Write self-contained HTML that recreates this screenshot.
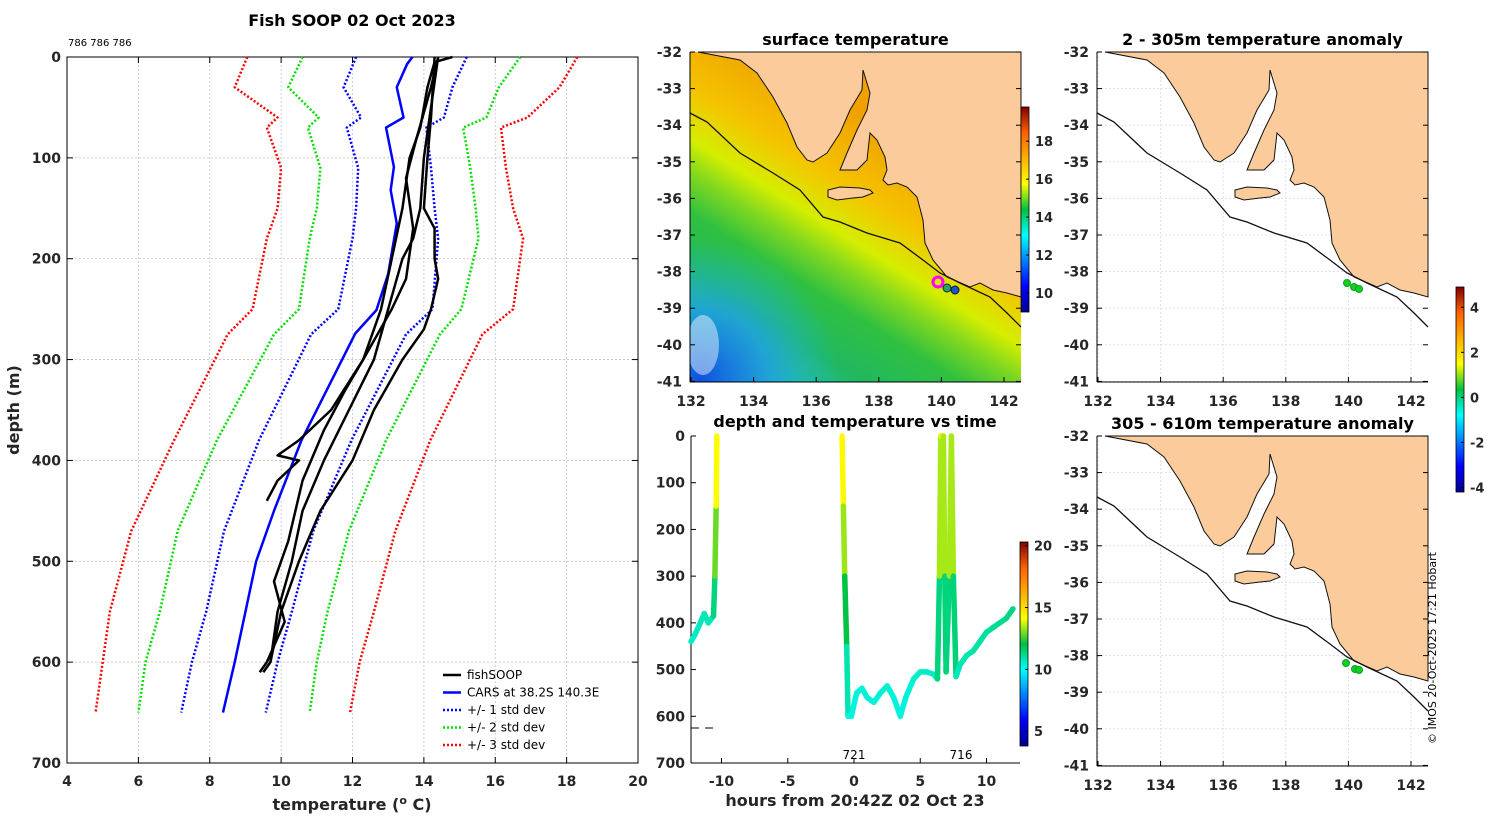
<!DOCTYPE html>
<html><head><meta charset="utf-8"><style>
body{margin:0;background:#fff;}
svg{display:block;font-family:"DejaVu Sans","Liberation Sans",sans-serif;}
.tk{font-size:14px;font-weight:bold;fill:#262626;}
.ti{font-size:16px;font-weight:bold;fill:#000;}
.sm{font-size:12px;fill:#000;}
</style></head><body>
<svg id="fig" width="1500" height="820" viewBox="0 0 1500 820">
<defs>
<linearGradient id="jet" x1="0" y1="1" x2="0" y2="0">
<stop offset="0" stop-color="#00008f"/><stop offset="0.125" stop-color="#0000ff"/><stop offset="0.375" stop-color="#00ffff"/><stop offset="0.5" stop-color="#00c040"/><stop offset="0.625" stop-color="#ffff00"/><stop offset="0.875" stop-color="#ff6000"/><stop offset="1" stop-color="#800000"/>
</linearGradient>
<linearGradient id="sst" gradientUnits="userSpaceOnUse" x1="905" y1="140" x2="755" y2="380">
<stop offset="0" stop-color="#f0a000"/><stop offset="0.25" stop-color="#f5c400"/><stop offset="0.4" stop-color="#d4ee00"/><stop offset="0.5" stop-color="#80d820"/><stop offset="0.62" stop-color="#30c040"/><stop offset="0.8" stop-color="#20b860"/><stop offset="1" stop-color="#20c0b0"/>
</linearGradient>
<radialGradient id="blue" gradientUnits="userSpaceOnUse" cx="700" cy="380" r="140">
<stop offset="0" stop-color="#1050e0"/><stop offset="0.5" stop-color="#20a0e0" stop-opacity="0.85"/><stop offset="1" stop-color="#20c0c0" stop-opacity="0"/>
</radialGradient>
<g id="land">
<path d="M698,52 L740,60 L757,73 L773,97 L787,123 L797,147 L807,160 L813,162 L827,153 L840,133 L850,110 L862,90 L863,70 L870,93 L867,110 L857,130 L847,153 L840,170 L857,170 L867,160 L870,133 L877,140 L885,157 L887,170 L883,180 L888,185 L897,183 L907,187 L917,197 L923,220 L925,243 L933,260 L947,277 L970,287 L980,283 L993,290 L1007,293 L1021,297 L1021,52 Z" fill="#fbcb9c" stroke="#111" stroke-width="1"/>
<path d="M828,190 L840,187 L860,188 L870,190 L873,193 L863,197 L853,198 L837,200 L828,197 Z" fill="#fbcb9c" stroke="#111" stroke-width="1"/>
<path d="M690,113 L707,122 L740,153 L773,173 L800,190 L823,217 L840,222 L867,233 L900,243 L923,260 L940,273 L960,283 L990,297 L1007,313 L1021,327" fill="none" stroke="#111" stroke-width="1.3"/>
</g>
</defs>
</svg>
<script>
// ---------- profile data ----------
const depthGrid=[0,30,60,70,110,150,180,250,275,380,470,550,600,650];
const sd3Left=[9.05,8.7,9.9,9.6,10.0,9.9,9.6,9.2,8.5,7.0,5.8,5.2,5.0,4.8];
const sd2Left=[10.6,10.2,11.05,10.75,11.1,11.0,10.8,10.5,9.8,8.2,7.1,6.6,6.2,6.0];
const sd1Left=[12.1,11.75,12.24,11.84,12.16,12.1,12.0,11.6,10.84,9.38,8.4,7.9,7.5,7.2];
const sd1Right=[15.2,14.8,14.56,14.07,14.2,14.3,14.4,14.24,13.5,11.97,10.9,10.3,9.9,9.57];
const sd2Right=[16.7,16.1,15.75,15.1,15.3,15.45,15.53,15.05,14.45,12.94,11.9,11.3,11.0,10.8];
const sd3Right=[18.3,17.8,16.9,16.16,16.3,16.5,16.78,16.5,15.64,14.18,13.2,12.6,12.2,11.93];
const carsDepth=[0,7,30,60,70,109,132,165,215,251,274,380,450,500,600,650];
const carsTemp=[13.68,13.53,13.24,13.43,12.94,13.16,13.07,13.24,13.0,12.67,12.08,10.57,9.8,9.3,8.7,8.37];
const soopDepthA=[0,5,30,70,100,150,200,250,280,300,350,380,395,400,420,440];
const soopTempA=[14.8,14.3,14.1,13.9,13.6,13.4,13.1,12.8,12.5,12.3,11.4,10.5,9.9,10.5,9.9,9.6];
const soopDepthB=[0,50,100,150,180,200,250,300,350,400,450,500,550,600,610];
const soopTempB=[14.4,14.2,14.0,13.9,13.7,13.4,13.0,12.6,11.9,11.2,10.6,10.3,9.9,9.7,9.5];
const soopDepthC=[0,60,100,150,170,200,220,250,270,300,350,400,450,500,550,600];
const soopTempC=[14.3,14.2,14.1,14.0,14.3,14.3,14.4,14.2,14.0,13.4,12.6,12.0,11.1,10.5,10.0,9.7];
const soopDepthD=[0,30,80,120,170,220,250,300,330,370,420,480,520,560,600,610];
const soopTempD=[14.4,14.2,13.8,13.5,13.7,13.5,13.1,12.3,11.8,11.2,10.6,10.2,9.8,10.1,9.6,9.4];
const tempTicks=[4,6,8,10,12,14,16,18,20];
const depthTicks=[0,100,200,300,400,500,600,700];
// ---------- time series data ----------
const cast1Time=[-12.3,-12.0,-11.6,-11.3,-11.0,-10.6,-10.5,-10.4,-10.35];
const cast1Depth=[440,425,400,380,400,385,300,150,0];
const cast1Temp=[10.6,10.6,10.7,10.8,10.7,10.8,12.0,13.8,14.6];
const cast2Time=[-0.9,-0.8,-0.7,-0.55,-0.45,-0.2,0.2,0.6,1.0,1.5,2.0,2.5,3.0,3.5,3.9,4.5,5.0,5.5,6.0,6.3,6.45,6.55,6.75,6.85,6.95,7.2,7.35,7.5,7.7,8.0,8.5,9.0,9.5,10.0,10.5,11.0,11.5,12.0];
const cast2Depth=[0,150,300,450,600,600,550,540,560,570,550,535,560,600,560,520,505,505,510,520,300,0,0,300,505,300,0,300,515,490,470,460,440,420,410,400,390,370];
const cast2Temp=[14.6,14.0,12.6,11.4,10.3,10.3,10.4,10.4,10.4,10.4,10.4,10.5,10.4,10.3,10.4,10.5,10.6,10.6,10.6,10.6,12.2,14.6,14.6,12.2,10.6,12.2,14.6,12.2,10.7,10.8,10.8,10.9,11.0,11.0,11.1,11.2,11.2,11.4];
const hourTicks=[-10,-5,0,5,10];
const mapLonTicks=[132,134,136,138,140,142];
const mapLatTicks=[-32,-33,-34,-35,-36,-37,-38,-39,-40,-41];
const sstTicks=[10,12,14,16,18];
const anomTicks=[4,2,0,-2,-4];
const tsTicks=[20,15,10,5];

const S='http://www.w3.org/2000/svg';
const svg=document.getElementById('fig');
function mk(tag,attrs,parent,text){const e=document.createElementNS(S,tag);for(const k in attrs)e.setAttribute(k,attrs[k]);if(text!==undefined)e.textContent=text;(parent||svg).appendChild(e);return e;}
const cmapStops=[[0,[0,0,143]],[0.125,[0,0,255]],[0.375,[0,255,255]],[0.5,[0,192,64]],[0.625,[255,255,0]],[0.875,[255,96,0]],[1,[128,0,0]]];
function cmap(v){v=Math.max(0,Math.min(1,v));for(let i=0;i<cmapStops.length-1;i++){const a=cmapStops[i],b=cmapStops[i+1];if(v<=b[0]){const f=(v-a[0])/(b[0]-a[0]);return 'rgb('+a[1].map((c,k)=>Math.round(c+(b[1][k]-c)*f)).join(',')+')';}}return 'rgb(128,0,0)';}

// ---------- profile panel ----------
const X0=67,X1=638,Y0=57,Y1=763;
const px=t=>X0+(t-4)/16*(X1-X0);
const py=d=>Y0+d/700*(Y1-Y0);
const g1=mk('g',{});


tempTicks.forEach(t=>{const x=px(t);
 if(t>4&&t<20){const gl=mk('line',{x1:x,y1:Y0,x2:x,y2:Y1,stroke:'#b8c4e8','stroke-width':0.8,'stroke-dasharray':'2,2'},g1);}
 mk('line',{x1:x,y1:Y1,x2:x,y2:Y1-6,stroke:'#000'},g1);mk('line',{x1:x,y1:Y0,x2:x,y2:Y0+6,stroke:'#000'},g1);
 const tl=mk('text',{x:x,y:Y1+23,'text-anchor':'middle',class:'tk'},g1,t);});
depthTicks.forEach(d=>{const y=py(d);
 if(d>0&&d<700){const gl=mk('line',{x1:X0,y1:y,x2:X1,y2:y,stroke:'#d8b8b0','stroke-width':0.8,'stroke-dasharray':'2,2'},g1);}
 mk('line',{x1:X0,y1:y,x2:X0+6,y2:y,stroke:'#000'},g1);mk('line',{x1:X1,y1:y,x2:X1-6,y2:y,stroke:'#000'},g1);
 const tl=mk('text',{x:X0-6,y:y+5,'text-anchor':'end',class:'tk'},g1,d);});
mk('rect',{x:X0,y:Y0,width:X1-X0,height:Y1-Y0,fill:'none',stroke:'#000'},g1);
function prof(depths,temps,color,w,dash,name){const p=mk('polyline',{points:depths.map((d,i)=>px(temps[i])+','+py(d)).join(' '),fill:'none',stroke:color,'stroke-width':w,'stroke-dasharray':dash||'none','stroke-linejoin':'round'},g1);}
prof(depthGrid,sd3Left,'#ff0000',2.5,'2,2','sd3-left-line');
prof(depthGrid,sd2Left,'#00e000',2.5,'2,2','sd2-left-line');
prof(depthGrid,sd1Left,'#0000ff',2.5,'2,2','sd1-left-line');
prof(depthGrid,sd1Right,'#0000ff',2.5,'2,2','sd1-right-line');
prof(depthGrid,sd2Right,'#00e000',2.5,'2,2','sd2-right-line');
prof(depthGrid,sd3Right,'#ff0000',2.5,'2,2','sd3-right-line');
prof(carsDepth,carsTemp,'#0000ff',2.5,null,'cars-line');
prof(soopDepthA,soopTempA,'#000',2.5,null,'fishsoop-profile-a');
prof(soopDepthB,soopTempB,'#000',2.5,null,'fishsoop-profile-b');
prof(soopDepthC,soopTempC,'#000',2.5,null,'fishsoop-profile-c');
prof(soopDepthD,soopTempD,'#000',2.5,null,'fishsoop-profile-d');
const legItems=[['fishSOOP','#000',null],['CARS at 38.2S 140.3E','#0000ff',null],['+/- 1 std dev','#0000ff','2,2'],['+/- 2 std dev','#00e000','2,2'],['+/- 3 std dev','#ff0000','2,2']];
legItems.forEach((it,i)=>{const y=675+i*17.5;const lg=mk('g',{},g1);
 mk('line',{x1:443,y1:y,x2:461,y2:y,stroke:it[1],'stroke-width':2.5,'stroke-dasharray':it[2]||'none'},lg);
 mk('text',{x:467,y:y+4,class:'sm'},lg,it[0]);});
let e;
e=mk('text',{x:352,y:26,'text-anchor':'middle',class:'ti'},svg,'Fish SOOP 02 Oct 2023');
e=mk('text',{x:68,y:46,style:'font-size:10px'},svg,'786 786 786');
e=mk('text',{x:352,y:810,'text-anchor':'middle',class:'tk',style:'font-size:16px'},svg,'');
e.innerHTML='temperature (<tspan dy="-6" font-size="11">o</tspan><tspan dy="6"> C)</tspan>';
e=mk('text',{x:19,y:410,'text-anchor':'middle',class:'tk',style:'font-size:16px',transform:'rotate(-90 19 410)'},svg,'depth (m)');

// ---------- maps ----------
function map(ox,oy,title,sst,name,dots){
 const g=mk('g',{transform:`translate(${ox},${oy})`});
 const L=690,R=1021,T=52,B=382;
 if(sst){mk('rect',{x:L,y:T,width:R-L,height:B-T,fill:'url(#sst)'},g);mk('rect',{x:L,y:T,width:R-L,height:B-T,fill:'url(#blue)'},g);
  mk('ellipse',{cx:703,cy:345,rx:16,ry:30,fill:'#fff',opacity:0.45},g);}
 else{mk('rect',{x:L,y:T,width:R-L,height:B-T,fill:'#fff'},g);
  mapLonTicks.forEach(l=>{const x=L+1+(l-132)*31.3;mk('line',{x1:x,y1:T,x2:x,y2:B,stroke:'#c8d0e8','stroke-width':0.6,'stroke-dasharray':'2,2'},g);});
  mapLatTicks.forEach(l=>{const y=T+(-32-l)*36.6;mk('line',{x1:L,y1:y,x2:R,y2:y,stroke:'#c8d0e8','stroke-width':0.6,'stroke-dasharray':'2,2'},g);});}
 mk('use',{href:'#land'},g);
 mk('line',{x1:L,y1:T,x2:L,y2:B,stroke:'#000'},g);mk('line',{x1:L,y1:B,x2:R,y2:B,stroke:'#000'},g);
 mapLonTicks.forEach(l=>{const x=L+1+(l-132)*31.3;mk('line',{x1:x,y1:B,x2:x,y2:B-5,stroke:'#000'},g);const t=mk('text',{x:x,y:B+24,'text-anchor':'middle',class:'tk'},g,l);});
 mapLatTicks.forEach(l=>{const y=T+(-32-l)*36.6;mk('line',{x1:L,y1:y,x2:L+5,y2:y,stroke:'#000'},g);mk('line',{x1:R,y1:y,x2:R-5,y2:y,stroke:'#000'},g);const t=mk('text',{x:L-8,y:y+5,'text-anchor':'end',class:'tk'},g,l);});
 const tt=mk('text',{x:(L+R)/2,y:T-7,'text-anchor':'middle',class:'ti'},g,title);
 dots.forEach(d=>{const c=mk('circle',{cx:d[0],cy:d[1],r:d[3]||4,fill:d[2],stroke:d[4]||'#063',"stroke-width":d[5]||1},g);});
}
map(0,0,'surface temperature',true,'surface-temperature-map',[[947,288,'#30a060',4,'#033'],[955,290,'#2050d0',4,'#022'],[938,282,'none',5,'#ff00ff',3]]);
map(407,0,'2 - 305m temperature anomaly',false,'anomaly-map-shallow',[[940,283,'#10d020',3.5,'#10a020'],[947,287,'#10d020',3.5,'#10a020'],[952,289,'#10d020',3.5,'#10a020']]);
map(407,384,'305 - 610m temperature anomaly',false,'anomaly-map-deep',[[939,279,'#10d020',3.5,'#10a020'],[948,285,'#10d020',3.5,'#10a020'],[952,286,'#10d020',3.5,'#10a020']]);

function cbar(x,y0,y1,ticks,vmin,vmax,name){const g=mk('g',{});
 mk('rect',{x:x,y:y0,width:8,height:y1-y0,fill:'url(#jet)',stroke:'#000','stroke-width':0.8},g);
 ticks.forEach(t=>{const y=y1-(t-vmin)/(vmax-vmin)*(y1-y0);mk('line',{x1:x+8,y1:y,x2:x+5,y2:y,stroke:'#000'},g);mk('text',{x:x+14,y:y+5,class:'tk',style:'font-size:13px'},g,t);});}
cbar(1021,107,312,sstTicks,9.0,19.8,'sst-colorbar');
cbar(1456,287,492,anomTicks,-4.2,4.9,'anomaly-colorbar');
cbar(1020,542,746,tsTicks,3.8,20.3,'time-colorbar');

// ---------- depth vs time ----------
const TX0=691,TX1=1020,TY0=436,TY1=763;
const tx=h=>854+h*13.25;
const ty=d=>TY0+d/700*(TY1-TY0);
const g3=mk('g',{});
mk('line',{x1:TX0,y1:TY0,x2:TX0,y2:TY1,stroke:'#000'},g3);mk('line',{x1:TX0,y1:TY1,x2:TX1,y2:TY1,stroke:'#000'},g3);
hourTicks.forEach(h=>{const x=tx(h);mk('line',{x1:x,y1:TY1,x2:x,y2:TY1-5,stroke:'#000'},g3);const t=mk('text',{x:x,y:TY1+23,'text-anchor':'middle',class:'tk'},g3,h);});
depthTicks.forEach(d=>{const y=ty(d);mk('line',{x1:TX0,y1:y,x2:TX0+5,y2:y,stroke:'#000'},g3);const t=mk('text',{x:TX0-6,y:y+5,'text-anchor':'end',class:'tk'},g3,d);});
function track(ts,ds,Ts,name){for(let i=0;i<ts.length-1;i++){const s=mk('line',{x1:tx(ts[i]),y1:ty(ds[i]),x2:tx(ts[i+1]),y2:ty(ds[i+1]),stroke:cmap(((Ts[i]+Ts[i+1])/2-3.8)/16.5),'stroke-width':5.5,'stroke-linecap':'round'},g3);}}
track(cast1Time,cast1Depth,cast1Temp,'track-segment-1');
track(cast2Time,cast2Depth,cast2Temp,'track-segment-2');
mk('line',{x1:691,y1:ty(625),x2:716,y2:ty(625),stroke:'#000','stroke-dasharray':'8,6'},g3);
e=mk('text',{x:tx(0),y:759,'text-anchor':'middle',class:'sm'},g3,'721');
e=mk('text',{x:961,y:759,'text-anchor':'middle',class:'sm'},g3,'716');
e=mk('text',{x:855,y:427,'text-anchor':'middle',class:'ti'},svg,'depth and temperature vs time');
e=mk('text',{x:855,y:806,'text-anchor':'middle',class:'tk',style:'font-size:16px'},svg,'hours from 20:42Z 02 Oct 23');
e=mk('text',{x:1436,y:648,'text-anchor':'middle',style:'font-size:11px',transform:'rotate(-90 1436 648)'},svg,'© IMOS 20-Oct-2025 17:21 Hobart');
</script>
</body></html>
